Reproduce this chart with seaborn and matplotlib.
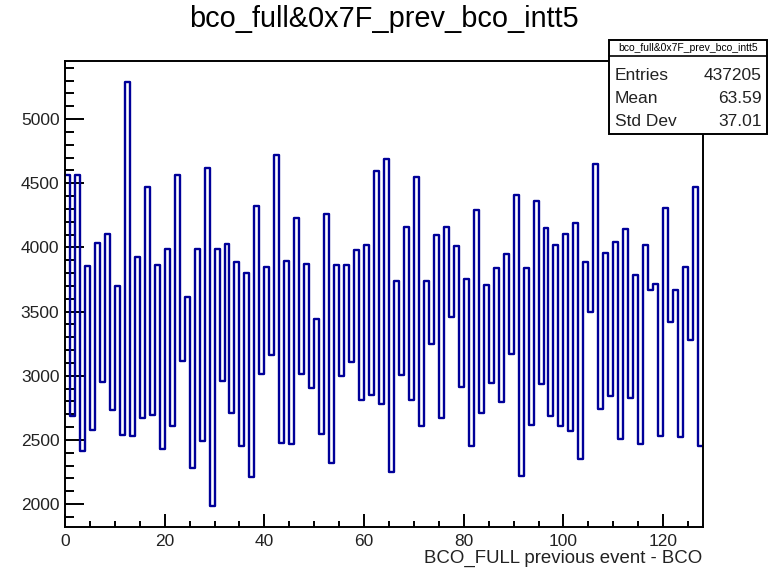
import numpy as np
import pandas as pd
import matplotlib
matplotlib.use("Agg")
import matplotlib.pyplot as plt
from matplotlib.patches import Rectangle
from matplotlib.lines import Line2D
from matplotlib.ticker import MultipleLocator
import seaborn as sns

# ---- data ----
bin_edges_lo = 0
bin_edges_hi = 128
n_bins = 128
counts = [
    4561, 2689, 4561, 2411, 3857, 2580, 4034, 2948, 4107, 2735,
    3696, 2541, 5288, 2528, 3925, 2671, 4468, 2696, 3865, 2429,
    3990, 2606, 4566, 3112, 3613, 2281, 3990, 2489, 4618, 1987,
    3990, 2956, 4026, 2709, 3886, 2450, 3800, 2208, 4320, 3016,
    3847, 3159, 4717, 2476, 3891, 2471, 4229, 3016, 3868, 2902,
    3442, 2548, 4262, 2320, 3865, 3000, 3862, 3109, 3982, 2808,
    4018, 2847, 4597, 2780, 4691, 2250, 3735, 3008, 4159, 2808,
    4551, 2606, 3740, 3250, 4099, 2671, 4159, 3457, 4008, 2912,
    3753, 2455, 4294, 2709, 3704, 2943, 3837, 2793, 3951, 3172,
    4410, 2221, 3837, 2619, 4359, 2938, 4153, 2684, 4021, 2611,
    4107, 2572, 4190, 2351, 3883, 3496, 4652, 2741, 3956, 2839,
    4044, 2509, 4143, 2826, 3785, 2471, 4018, 3670, 3717, 2528,
    4307, 3418, 3670, 2520, 3844, 3276, 4475, 2455,
]
title = "bco_full&0x7F_prev_bco_intt5"
xlabel = "BCO_FULL previous event - BCO"
stats_names = ["Entries", "Mean", "Std Dev"]
stats_values = ["437205", "63.59", "37.01"]

centers = np.arange(n_bins) + 0.5
df = pd.DataFrame({"x": centers, "w": counts})

# ---- figure ----
sns.set_style("white")
plt.rcParams["font.family"] = ["Liberation Sans", "DejaVu Sans"]

W, H = 768, 571
fig = plt.figure(figsize=(W / 100, H / 100), dpi=100)
fig.patch.set_facecolor("white")

def fx(px):
    return px / W

def fy(py):
    return 1 - py / H

L, R, T, B = 65, 703, 61, 527
ax = fig.add_axes([fx(L), fy(B), fx(R) - fx(L), fy(T) - fy(B)])

sns.histplot(data=df, x="x", weights="w", bins=n_bins,
             binrange=(bin_edges_lo, bin_edges_hi), element="step",
             fill=False, color="#000099", linewidth=1.7, ax=ax)

ax.set_xlim(0, 128)
ax.set_ylim(1822, 5453)
ax.set_xlabel("")
ax.set_ylabel("")

for s in ax.spines.values():
    s.set_color("black")
    s.set_linewidth(1.4)

ax.xaxis.set_major_locator(MultipleLocator(20))
ax.xaxis.set_minor_locator(MultipleLocator(5))
ax.yaxis.set_major_locator(MultipleLocator(500))
ax.yaxis.set_minor_locator(MultipleLocator(100))
ax.tick_params(axis="both", which="both", direction="in", colors="black",
               top=False, right=False, left=True, bottom=True,
               labelsize=12.5)
ax.tick_params(axis="y", which="major", length=13.5, width=1.4, pad=4)
ax.tick_params(axis="y", which="minor", length=6.5, width=1.4)
ax.tick_params(axis="x", which="major", length=9.5, width=1.4, pad=5)
ax.tick_params(axis="x", which="minor", length=4.5, width=1.4)
for lab in ax.get_xticklabels() + ax.get_yticklabels():
    lab.set_color("#222222")

# title and axis label
fig.text(fx(384), fy(19), title, ha="center", va="center", fontsize=20.8,
         color="black")
fig.text(fx(702), fy(558), xlabel, ha="right", va="center", fontsize=13.4,
         color="#222222")

# stats box
bx0, bx1, by0, by1 = 609, 767, 40, 134
fig.patches.append(Rectangle((fx(bx0), fy(by1)), fx(bx1) - fx(bx0),
                             fy(by0) - fy(by1), transform=fig.transFigure,
                             facecolor="white", edgecolor="black",
                             linewidth=1.4, zorder=10))
fig.lines.append(Line2D([fx(bx0), fx(bx1)], [fy(56), fy(56)],
                        transform=fig.transFigure, color="black",
                        linewidth=1.2, zorder=11))
fig.text(fx((bx0 + bx1) / 2), fy(48), title, ha="center", va="center",
         fontsize=7.5, color="black", zorder=12)
rows_y = [76, 98.5, 121]
for name, val, yy in zip(stats_names, stats_values, rows_y):
    fig.text(fx(615), fy(yy), name, ha="left", va="center", fontsize=12.5,
             color="#222222", zorder=12)
    fig.text(fx(762), fy(yy), val, ha="right", va="center", fontsize=12.5,
             color="#222222", zorder=12)

fig.savefig("out.png", dpi=100, facecolor="white")
